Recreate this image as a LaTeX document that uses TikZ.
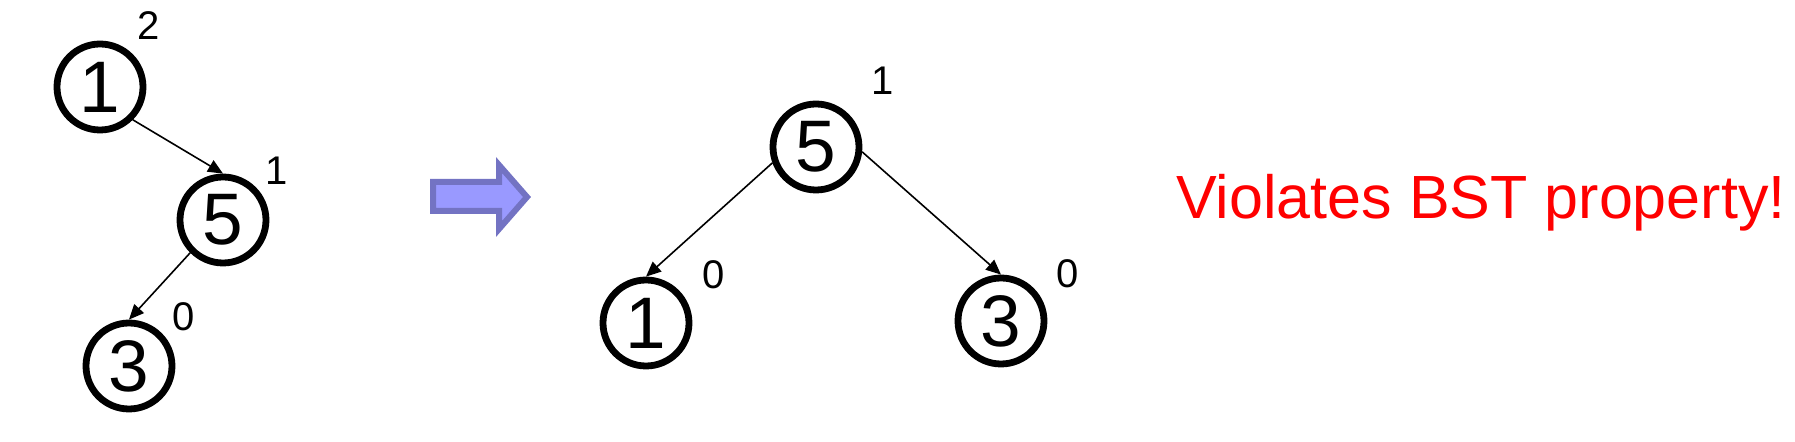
\documentclass[tikz,border=0pt]{standalone}
\usepackage{fontspec}
\setmainfont{Liberation Sans}
\usetikzlibrary{arrows.meta}
\definecolor{arrowfill}{RGB}{153,153,255}
\definecolor{arrowline}{RGB}{115,115,195}
\definecolor{warnred}{RGB}{255,0,0}
\begin{document}
\begin{tikzpicture}[x=0.5pt,y=-0.5pt,
  treenode/.style={circle,draw=black,line width=3.4pt,minimum size=43pt,inner sep=0pt,
    font=\fontsize{36.5pt}{40pt}\selectfont},
  balance/.style={inner sep=0pt,font=\fontsize{20pt}{24pt}\selectfont},
  conn/.style={line width=0.8pt,-{Triangle[length=7.5pt,width=6.5pt]}},
  note/.style={inner sep=0pt,text=warnred,font=\fontsize{30.5pt}{34pt}\selectfont}]
\useasboundingbox (0,0) rectangle (1795,442);
% left tree
\node[treenode] (L1) at (100,87) {1};
\node[treenode] (L5) at (223,220) {5};
\node[treenode] (L3) at (129,366) {3};
\node[balance] (bL1) at (149,26) {2};
\node[balance] (bL5) at (277,171) {1};
\node[balance] (bL3) at (184,317) {0};
\draw[conn] (L1.south east) -- (L5.north);
\draw[conn] (L5.south west) -- (L3.north);
% block arrow
\draw[line width=3pt,draw=arrowline,fill=arrowfill,line join=miter]
  (433,182) -- (499,182) -- (499,165) -- (527,197) -- (499,229) -- (499,211) -- (433,211) -- cycle;
% right tree
\node[treenode] (R5) at (816,147) {5};
\node[treenode] (R1) at (646,323) {1};
\node[treenode] (R3) at (1001,321) {3};
\node[balance] (bR5) at (883,81) {1};
\node[balance] (bR1) at (714,275) {0};
\node[balance] (bR3) at (1068,274) {0};
\draw[conn] (R5.200) -- (R1.north);
\draw[conn] (R5.-6) -- (R3.north);
% note
\node[note,anchor=base west] (msg) at (1176,219) {Violates BST property!};
\end{tikzpicture}
\end{document}
